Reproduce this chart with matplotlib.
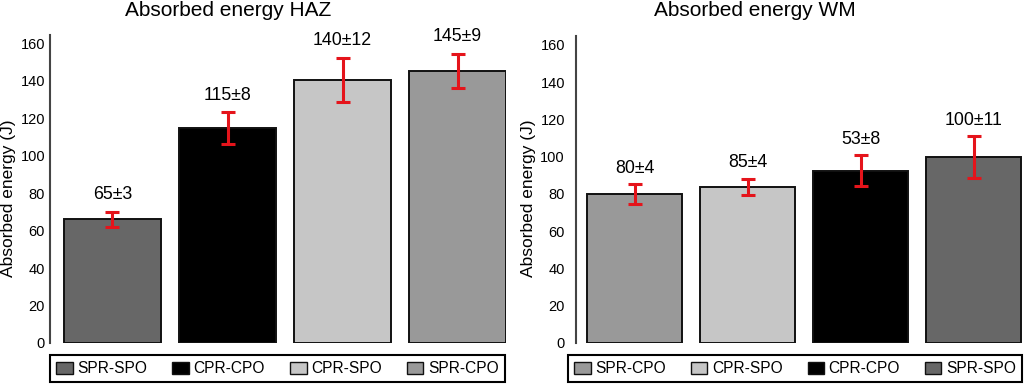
import matplotlib
matplotlib.use("Agg")
import matplotlib.pyplot as plt
from matplotlib.patches import Patch

plt.rcParams['font.family'] = ['Liberation Sans', 'DejaVu Sans']

# ---- data ----
haz_categories = ['SPR-SPO', 'CPR-CPO', 'CPR-SPO', 'SPR-CPO']
haz_values = [66, 114.5, 140.5, 145]
haz_errors = [4, 8.5, 11.7, 9.2]
haz_labels = ['65±3', '115±8', '140±12', '145±9']

wm_categories = ['SPR-CPO', 'CPR-SPO', 'CPR-CPO', 'SPR-SPO']
wm_values = [80, 84, 92.5, 100]
wm_errors = [5.4, 4.3, 8.3, 11.3]
wm_labels = ['80±4', '85±4', '53±8', '100±11']

yticks = [0, 20, 40, 60, 80, 100, 120, 140, 160]

colors = {'SPR-SPO': '#676767', 'CPR-CPO': '#000000',
          'CPR-SPO': '#c6c6c6', 'SPR-CPO': '#999999'}

W, H = 1024, 385
fig = plt.figure(figsize=(W / 100, H / 100), dpi=100)


def panel(rect, cats, vals, errs, labels, ylim, xlim, title, title_x, ylabel_x,
          tick_pad, legend_rect, label_off):
    ax = fig.add_axes(rect)
    x = list(range(len(cats)))
    ax.bar(x, vals, width=0.84, color=[colors[c] for c in cats],
           edgecolor='#111111', linewidth=1.4, zorder=2)
    ax.errorbar(x, vals, yerr=errs, fmt='none', ecolor='#e5141b',
                elinewidth=2.2, capsize=5, capthick=2.2, zorder=3)
    for xi, v, e, lab in zip(x, vals, errs, labels):
        ax.annotate(lab, (xi, v + e), xytext=(0, label_off),
                    textcoords='offset points', ha='center', va='baseline',
                    fontsize=12.8, color='black')
    ax.set_ylim(*ylim)
    ax.set_xlim(*xlim)
    ax.set_yticks(yticks)
    ax.set_xticks([])
    ax.tick_params(axis='y', length=0, pad=tick_pad, labelsize=10.5)
    for s in ['top', 'right', 'bottom']:
        ax.spines[s].set_visible(False)
    ax.spines['left'].set_color('#444444')
    ax.spines['left'].set_linewidth(1.5)
    fig.text(title_x / W, 1 - 11 / H, title, ha='center', va='center',
             fontsize=15)
    fig.text(ylabel_x / W, 1 - 198 / H, 'Absorbed energy (J)', rotation=90,
             ha='center', va='center', fontsize=12.5)
    handles = [Patch(facecolor=colors[c], edgecolor='#111111', linewidth=1.0)
               for c in cats]
    leg = fig.legend(handles, cats, loc='center', bbox_to_anchor=legend_rect,
                     mode='expand', ncol=4, frameon=True, fancybox=False,
                     edgecolor='black', framealpha=1, borderaxespad=0,
                     handlelength=1.05, handleheight=0.8, handletextpad=0.3,
                     borderpad=0.4, fontsize=11.2, columnspacing=1.0)
    leg.get_frame().set_linewidth(1.5)
    return ax


panel([50 / W, 1 - 343 / H, 456 / W, 308 / H], haz_categories, haz_values,
      haz_errors, haz_labels, (0, 164.3), (-0.543, 3.42),
      'Absorbed energy HAZ', 228, 9, 3.6,
      (50 / W, 2 / H, 455 / W, 29 / H), 9)

panel([576 / W, 1 - 343 / H, 446 / W, 307 / H], wm_categories, wm_values,
      wm_errors, wm_labels, (0, 164.8), (-0.519, 3.426),
      'Absorbed energy WM', 755, 528, 8,
      (568 / W, 2 / H, 454 / W, 29 / H), 8)

fig.savefig('out.png', dpi=100)
